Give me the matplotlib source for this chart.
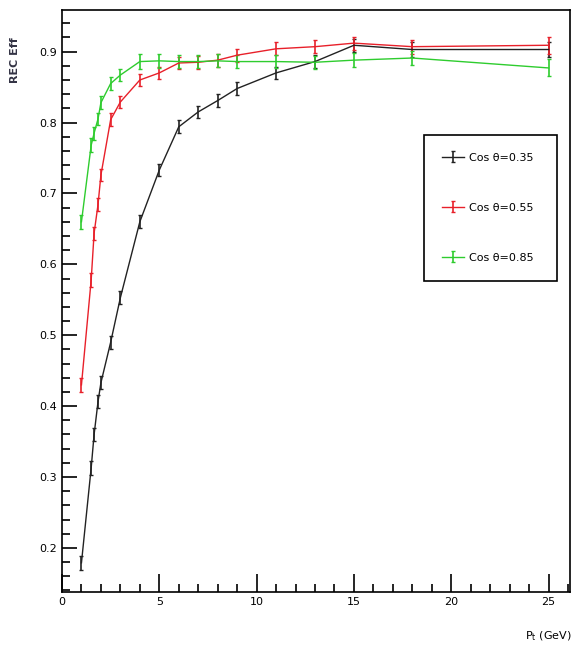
import numpy as np
import matplotlib
matplotlib.use("Agg")
import matplotlib.pyplot as plt
from matplotlib.ticker import MultipleLocator

# transverse momentum points (GeV)
pt = [1, 1.5, 1.65, 1.85, 2, 2.5, 3, 4, 5, 6, 7, 8, 9, 11, 13, 15, 18, 25]

eff_035 = [0.179, 0.313, 0.360, 0.406, 0.433, 0.490, 0.553, 0.660, 0.733, 0.794,
           0.815, 0.831, 0.848, 0.870, 0.886, 0.909, 0.903, 0.903]
eff_055 = [0.430, 0.578, 0.644, 0.684, 0.726, 0.804, 0.829, 0.860, 0.870, 0.884,
           0.885, 0.888, 0.895, 0.904, 0.907, 0.912, 0.907, 0.909]
eff_085 = [0.660, 0.768, 0.785, 0.805, 0.828, 0.855, 0.867, 0.886, 0.887, 0.886,
           0.886, 0.887, 0.886, 0.886, 0.885, 0.888, 0.891, 0.877]

err_035 = [0.010, 0.010, 0.009, 0.009, 0.009, 0.009, 0.009, 0.009, 0.009, 0.009,
           0.009, 0.009, 0.009, 0.009, 0.009, 0.009, 0.010, 0.010]
err_055 = [0.010, 0.010, 0.009, 0.009, 0.009, 0.009, 0.009, 0.009, 0.009, 0.009,
           0.009, 0.009, 0.009, 0.009, 0.009, 0.009, 0.010, 0.012]
err_085 = [0.010, 0.010, 0.009, 0.009, 0.009, 0.009, 0.009, 0.010, 0.010, 0.009,
           0.009, 0.009, 0.009, 0.009, 0.009, 0.010, 0.010, 0.012]

labels = ["Cos \u03b8=0.35", "Cos \u03b8=0.55", "Cos \u03b8=0.85"]
colors = ["#222222", "#e8202a", "#2ecc2e"]

fig = plt.figure(figsize=(5.74, 6.54), dpi=100)
ax = fig.add_axes([0.108, 0.095, 0.885, 0.89])

series = [(eff_035, err_035), (eff_055, err_055), (eff_085, err_085)]
for (y, e), c, lab in zip(series, colors, labels):
    ax.errorbar(pt, y, yerr=e, color=c, lw=1.0, elinewidth=1.2,
                capsize=1.5, capthick=1.0, label=lab)

ax.set_xlim(0, 26.1)
ax.set_ylim(0.138, 0.959)

ax.xaxis.set_major_locator(MultipleLocator(5))
ax.xaxis.set_minor_locator(MultipleLocator(1))
ax.yaxis.set_major_locator(MultipleLocator(0.1))
ax.yaxis.set_minor_locator(MultipleLocator(0.02))
ax.tick_params(axis="both", which="both", direction="in", labelsize=8,
               width=1.2)
ax.tick_params(axis="x", which="major", length=13)
ax.tick_params(axis="x", which="minor", length=6)
ax.tick_params(axis="y", which="major", length=11)
ax.tick_params(axis="y", which="minor", length=5.5)
for s in ax.spines.values():
    s.set_linewidth(1.2)

leg = ax.legend(loc="upper left", bbox_to_anchor=(0.713, 0.536, 0.261, 0.249),
                mode="expand", borderaxespad=0, fontsize=8, frameon=True,
                fancybox=False, edgecolor="black", labelspacing=3.6,
                borderpad=1.6, handlelength=2.0, handletextpad=0.4,
                framealpha=1)
leg.get_frame().set_linewidth(1.2)

fig.text(15 / 574, 1 - 60 / 654, "REC Eff", rotation=90, fontsize=8,
         fontweight="bold", ha="center", va="center", color="#333344")
fig.text(548 / 574, 1 - 636 / 654, r"P$_{\rm t}$ (GeV)", fontsize=8,
         ha="center", va="center")

fig.savefig("out.png", dpi=100)
